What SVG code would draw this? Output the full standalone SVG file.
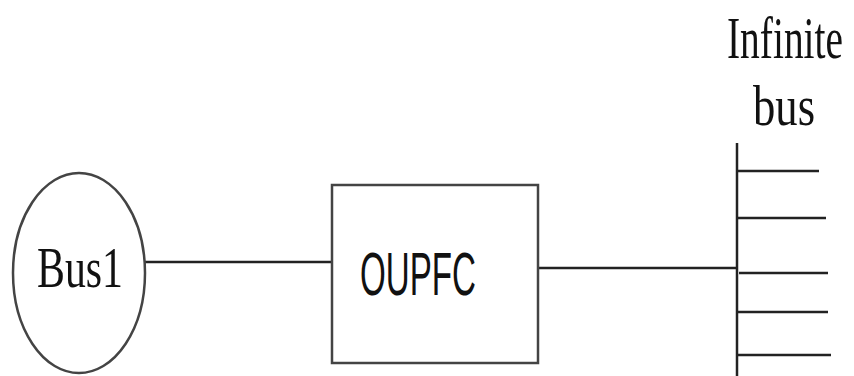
<svg xmlns="http://www.w3.org/2000/svg" width="854" height="376" viewBox="0 0 854 376">
  <style>
    .wire { stroke: #222; stroke-width: 2.5; fill: none; }
    .shape { stroke: #444; stroke-width: 2.5; fill: #fff; }
    .serif { font-family: "Liberation Serif", "Times New Roman", serif; fill: #111; }
    .sans { font-family: "Liberation Sans", Arial, sans-serif; fill: #111; }
  </style>
  <rect width="854" height="376" fill="#fff"/>

  <!-- connectors -->
  <g id="connectors">
    <line class="wire" x1="145" y1="262" x2="332" y2="262"/>
    <line class="wire" x1="538" y1="268" x2="737" y2="268"/>
  </g>

  <!-- source bus -->
  <g id="bus1">
    <ellipse class="shape" cx="79" cy="273" rx="66" ry="100"/>
    <text class="serif" x="37" y="287" font-size="58" textLength="86" lengthAdjust="spacingAndGlyphs">Bus1</text>
  </g>

  <!-- controller block -->
  <g id="oupfc">
    <rect class="shape" x="332" y="185" width="206" height="178"/>
    <text class="sans" x="360" y="295" font-size="62" textLength="116" lengthAdjust="spacingAndGlyphs">OUPFC</text>
  </g>

  <!-- infinite bus -->
  <g id="infinite-bus">
    <text class="serif" x="727" y="58" font-size="60" textLength="116" lengthAdjust="spacingAndGlyphs">Infinite</text>
    <text class="serif" x="753" y="125" font-size="56" textLength="62" lengthAdjust="spacingAndGlyphs">bus</text>
    <line class="wire" x1="737" y1="143" x2="737" y2="376"/>
    <line class="wire" x1="737" y1="171" x2="819" y2="171" stroke-width="3"/>
    <line class="wire" x1="737" y1="218" x2="826" y2="218" stroke-width="3"/>
    <line class="wire" x1="739" y1="273" x2="828" y2="273" stroke-width="3"/>
    <line class="wire" x1="737" y1="312" x2="828" y2="312" stroke-width="3"/>
    <line class="wire" x1="737" y1="355" x2="831" y2="355" stroke-width="3"/>
  </g>
</svg>
